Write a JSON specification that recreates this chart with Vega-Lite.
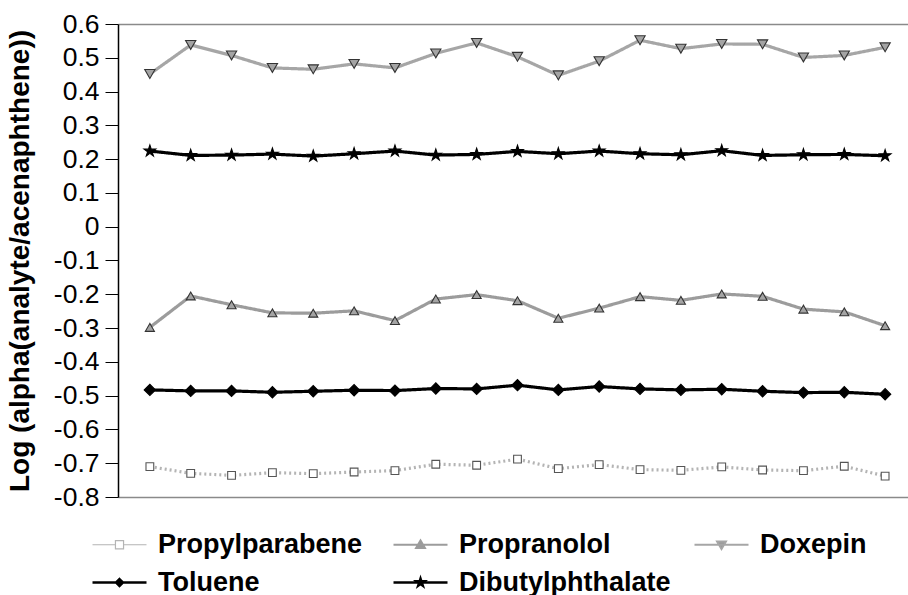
{
  "$schema": "https://vega.github.io/schema/vega-lite/v6.json",
  "width": 790,
  "height": 473,
  "autosize": {"type": "none"},
  "padding": {"left": 118, "top": 24, "right": 0, "bottom": 98},
  "background": "white",
  "config": {
    "view": {"stroke": null},
    "axis": {"grid": false},
    "font": "Liberation Sans"
  },
  "data": {
    "values": [
      {"run": 1, "series": "Propylparabene", "v": -0.710},
      {"run": 2, "series": "Propylparabene", "v": -0.730},
      {"run": 3, "series": "Propylparabene", "v": -0.736},
      {"run": 4, "series": "Propylparabene", "v": -0.728},
      {"run": 5, "series": "Propylparabene", "v": -0.731},
      {"run": 6, "series": "Propylparabene", "v": -0.726},
      {"run": 7, "series": "Propylparabene", "v": -0.722},
      {"run": 8, "series": "Propylparabene", "v": -0.703},
      {"run": 9, "series": "Propylparabene", "v": -0.706},
      {"run": 10, "series": "Propylparabene", "v": -0.688},
      {"run": 11, "series": "Propylparabene", "v": -0.716},
      {"run": 12, "series": "Propylparabene", "v": -0.704},
      {"run": 13, "series": "Propylparabene", "v": -0.719},
      {"run": 14, "series": "Propylparabene", "v": -0.721},
      {"run": 15, "series": "Propylparabene", "v": -0.711},
      {"run": 16, "series": "Propylparabene", "v": -0.720},
      {"run": 17, "series": "Propylparabene", "v": -0.722},
      {"run": 18, "series": "Propylparabene", "v": -0.709},
      {"run": 19, "series": "Propylparabene", "v": -0.738},
      {"run": 1, "series": "Propranolol", "v": -0.298},
      {"run": 2, "series": "Propranolol", "v": -0.205},
      {"run": 3, "series": "Propranolol", "v": -0.231},
      {"run": 4, "series": "Propranolol", "v": -0.255},
      {"run": 5, "series": "Propranolol", "v": -0.256},
      {"run": 6, "series": "Propranolol", "v": -0.249},
      {"run": 7, "series": "Propranolol", "v": -0.278},
      {"run": 8, "series": "Propranolol", "v": -0.214},
      {"run": 9, "series": "Propranolol", "v": -0.201},
      {"run": 10, "series": "Propranolol", "v": -0.219},
      {"run": 11, "series": "Propranolol", "v": -0.271},
      {"run": 12, "series": "Propranolol", "v": -0.241},
      {"run": 13, "series": "Propranolol", "v": -0.207},
      {"run": 14, "series": "Propranolol", "v": -0.218},
      {"run": 15, "series": "Propranolol", "v": -0.199},
      {"run": 16, "series": "Propranolol", "v": -0.206},
      {"run": 17, "series": "Propranolol", "v": -0.244},
      {"run": 18, "series": "Propranolol", "v": -0.252},
      {"run": 19, "series": "Propranolol", "v": -0.293},
      {"run": 1, "series": "Doxepin", "v": 0.452},
      {"run": 2, "series": "Doxepin", "v": 0.538},
      {"run": 3, "series": "Doxepin", "v": 0.507},
      {"run": 4, "series": "Doxepin", "v": 0.470},
      {"run": 5, "series": "Doxepin", "v": 0.466},
      {"run": 6, "series": "Doxepin", "v": 0.482},
      {"run": 7, "series": "Doxepin", "v": 0.470},
      {"run": 8, "series": "Doxepin", "v": 0.513},
      {"run": 9, "series": "Doxepin", "v": 0.544},
      {"run": 10, "series": "Doxepin", "v": 0.503},
      {"run": 11, "series": "Doxepin", "v": 0.448},
      {"run": 12, "series": "Doxepin", "v": 0.490},
      {"run": 13, "series": "Doxepin", "v": 0.552},
      {"run": 14, "series": "Doxepin", "v": 0.527},
      {"run": 15, "series": "Doxepin", "v": 0.541},
      {"run": 16, "series": "Doxepin", "v": 0.540},
      {"run": 17, "series": "Doxepin", "v": 0.501},
      {"run": 18, "series": "Doxepin", "v": 0.507},
      {"run": 19, "series": "Doxepin", "v": 0.531},
      {"run": 1, "series": "Toluene", "v": -0.483},
      {"run": 2, "series": "Toluene", "v": -0.486},
      {"run": 3, "series": "Toluene", "v": -0.486},
      {"run": 4, "series": "Toluene", "v": -0.490},
      {"run": 5, "series": "Toluene", "v": -0.487},
      {"run": 6, "series": "Toluene", "v": -0.484},
      {"run": 7, "series": "Toluene", "v": -0.485},
      {"run": 8, "series": "Toluene", "v": -0.479},
      {"run": 9, "series": "Toluene", "v": -0.480},
      {"run": 10, "series": "Toluene", "v": -0.469},
      {"run": 11, "series": "Toluene", "v": -0.483},
      {"run": 12, "series": "Toluene", "v": -0.473},
      {"run": 13, "series": "Toluene", "v": -0.480},
      {"run": 14, "series": "Toluene", "v": -0.483},
      {"run": 15, "series": "Toluene", "v": -0.481},
      {"run": 16, "series": "Toluene", "v": -0.487},
      {"run": 17, "series": "Toluene", "v": -0.491},
      {"run": 18, "series": "Toluene", "v": -0.490},
      {"run": 19, "series": "Toluene", "v": -0.496},
      {"run": 1, "series": "Dibutylphthalate", "v": 0.224},
      {"run": 2, "series": "Dibutylphthalate", "v": 0.211},
      {"run": 3, "series": "Dibutylphthalate", "v": 0.212},
      {"run": 4, "series": "Dibutylphthalate", "v": 0.215},
      {"run": 5, "series": "Dibutylphthalate", "v": 0.209},
      {"run": 6, "series": "Dibutylphthalate", "v": 0.216},
      {"run": 7, "series": "Dibutylphthalate", "v": 0.224},
      {"run": 8, "series": "Dibutylphthalate", "v": 0.212},
      {"run": 9, "series": "Dibutylphthalate", "v": 0.214},
      {"run": 10, "series": "Dibutylphthalate", "v": 0.223},
      {"run": 11, "series": "Dibutylphthalate", "v": 0.216},
      {"run": 12, "series": "Dibutylphthalate", "v": 0.224},
      {"run": 13, "series": "Dibutylphthalate", "v": 0.216},
      {"run": 14, "series": "Dibutylphthalate", "v": 0.213},
      {"run": 15, "series": "Dibutylphthalate", "v": 0.225},
      {"run": 16, "series": "Dibutylphthalate", "v": 0.211},
      {"run": 17, "series": "Dibutylphthalate", "v": 0.213},
      {"run": 18, "series": "Dibutylphthalate", "v": 0.214},
      {"run": 19, "series": "Dibutylphthalate", "v": 0.210}
    ]
  },
  "encoding": {
    "y": {
      "field": "v",
      "type": "quantitative",
      "scale": {"domain": [-0.8, 0.6], "nice": false, "zero": false},
      "axis": {
        "title": "Log (alpha(analyte/acenaphthene))",
        "titleFont": "Liberation Sans",
        "titleFontSize": 28,
        "titleFontWeight": "bold",
        "titleColor": "#000000",
        "titlePadding": 19,
        "values": [-0.8, -0.7, -0.6, -0.5, -0.4, -0.3, -0.2, -0.1, 0, 0.1, 0.2, 0.3, 0.4, 0.5, 0.6],
        "tickCount": 15,
        "labelExpr": "abs(datum.value) < 1e-9 ? '0' : (datum.value < 0 ? '-' + format(-datum.value, '.1f') : format(datum.value, '.1f'))",
        "labelFont": "Liberation Sans",
        "labelFontSize": 26.5,
        "labelColor": "#000000",
        "labelPadding": 6,
        "labelOverlap": false,
        "labelBound": false,
        "tickSize": 13,
        "tickColor": "#000000",
        "tickWidth": 1,
        "domainColor": "#000000",
        "domainWidth": 1.5
      }
    }
  },
  "resolve": {"axis": {"x": "independent"}},
  "layer": [
    {
      "mark": {"type": "line", "clip": true},
      "encoding": {
        "x": {
          "field": "run",
          "type": "quantitative",
          "scale": {"domain": [0.22, 19.56], "nice": false, "zero": false},
          "axis": {
            "title": null,
            "labels": false,
            "ticks": false,
            "domainColor": "#8a8a8a",
            "domainWidth": 1.5
          }
        },
        "color": {
          "field": "series",
          "type": "nominal",
          "scale": {
            "domain": ["Propylparabene", "Propranolol", "Doxepin", "Toluene", "Dibutylphthalate"],
            "range": ["#b4b4b4", "#9c9c9c", "#a6a6a6", "#000000", "#000000"]
          },
          "legend": {
            "title": null,
            "orient": "none",
            "legendX": -12,
            "legendY": 507,
            "direction": "horizontal",
            "columns": 3,
            "gridAlign": "all",
            "columnPadding": 18,
            "rowPadding": 10,
            "symbolSize": 2916,
            "symbolType": "stroke",
            "labelFont": "Liberation Sans",
            "labelFontSize": 27,
            "labelFontWeight": "bold",
            "labelColor": "#000000",
            "labelOffset": 25,
            "labelLimit": 400,
            "encode": {
              "symbols": {
                "update": {
                  "shape": {"signal": "datum.value == 'Propylparabene' ? 'M-1,0H-0.15M0.15,0H1M-0.15,-0.15H0.15V0.15H-0.15Z' : datum.value == 'Propranolol' ? 'M-1,0H1M0,-0.17L0.17,0.12H-0.17Z' : datum.value == 'Doxepin' ? 'M-1,0H1M-0.17,-0.12H0.17L0,0.17Z' : datum.value == 'Toluene' ? 'M-1,0H1M0,-0.13L0.13,0L0,0.13L-0.13,0Z' : 'M-1,0H1M0,-0.15L0.034,-0.046L0.143,-0.046L0.054,0.018L0.088,0.121L0,0.057L-0.088,0.121L-0.054,0.018L-0.143,-0.046L-0.034,-0.046Z'"},
                  "size": {"value": 2916},
                  "fill": {"signal": "datum.value == 'Propylparabene' ? '#ffffff' : (datum.value == 'Propranolol' || datum.value == 'Doxepin') ? '#9a9a9a' : '#000000'"},
                  "strokeWidth": {"signal": "datum.value == 'Propylparabene' ? 1.2 : (datum.value == 'Propranolol' || datum.value == 'Doxepin') ? 1.8 : 2.4"},
                  "opacity": {"value": 1}
                }
              }
            }
          }
        },
        "strokeWidth": {
          "field": "series",
          "type": "nominal",
          "scale": {
            "domain": ["Dibutylphthalate", "Toluene", "Doxepin", "Propranolol", "Propylparabene"],
            "range": [3.2, 3.2, 2.6, 2.6, 1.2]
          },
          "legend": null
        },
        "strokeDash": {
          "field": "series",
          "type": "nominal",
          "scale": {
            "domain": ["Dibutylphthalate", "Toluene", "Doxepin", "Propranolol", "Propylparabene"],
            "range": [[1, 0], [1, 0], [1, 0], [1, 0], [2, 3]]
          },
          "legend": null
        }
      }
    },
    {
      "mark": {"type": "point", "filled": true, "opacity": 1, "strokeWidth": 1.1},
      "encoding": {
        "x": {
          "field": "run",
          "type": "quantitative",
          "axis": {
            "orient": "top",
            "title": null,
            "labels": false,
            "ticks": false,
            "domainColor": "#8a8a8a",
            "domainWidth": 1.5
          }
        },
        "shape": {
          "field": "series",
          "type": "nominal",
          "scale": {
            "domain": ["Dibutylphthalate", "Toluene", "Doxepin", "Propranolol", "Propylparabene"],
            "range": ["M0,-1L0.225,-0.309L0.951,-0.309L0.363,0.118L0.588,0.809L0,0.382L-0.588,0.809L-0.363,0.118L-0.951,-0.309L-0.225,-0.309Z", "diamond", "triangle-down", "triangle-up", "square"]
          },
          "legend": null
        },
        "fill": {
          "field": "series",
          "type": "nominal",
          "scale": {
            "domain": ["Dibutylphthalate", "Toluene", "Doxepin", "Propranolol", "Propylparabene"],
            "range": ["#000000", "#000000", "#a4a4a4", "#a4a4a4", "#ffffff"]
          },
          "legend": null
        },
        "stroke": {
          "field": "series",
          "type": "nominal",
          "scale": {
            "domain": ["Dibutylphthalate", "Toluene", "Doxepin", "Propranolol", "Propylparabene"],
            "range": ["#000000", "#000000", "#333333", "#333333", "#555555"]
          },
          "legend": null
        },
        "size": {
          "field": "series",
          "type": "nominal",
          "scale": {
            "domain": ["Dibutylphthalate", "Toluene", "Doxepin", "Propranolol", "Propylparabene"],
            "range": [150, 60, 110, 110, 80]
          },
          "legend": null
        }
      }
    }
  ]
}
